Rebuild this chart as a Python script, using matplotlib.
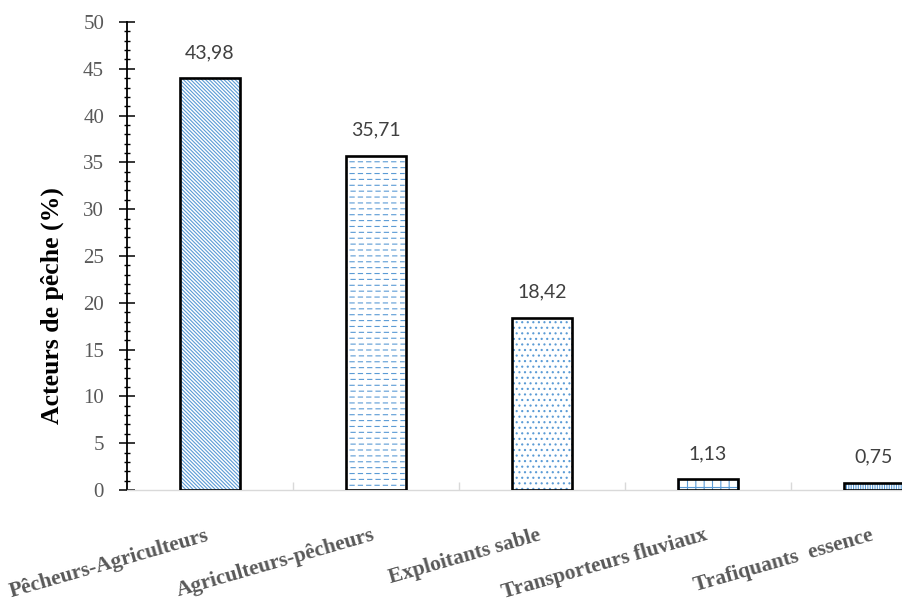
import numpy as np
import matplotlib
matplotlib.use("Agg")
import matplotlib.pyplot as plt
import matplotlib.hatch as mhatch
from matplotlib.path import Path
from matplotlib.ticker import MultipleLocator, FixedLocator

# ---------------- data ----------------
categories = ["Pêcheurs-Agriculteurs", "Agriculteurs-pêcheurs", "Exploitants sable",
              "Transporteurs fluviaux", "Trafiquants  essence"]
values = [43.98, 35.71, 18.42, 1.13, 0.75]
y_ticks = [0, 5, 10, 15, 20, 25, 30, 35, 40, 45, 50]
y_label = "Acteurs de pêche (%)"


# custom dashed-row hatch (replaces the 'O' pattern)
class DashedRows(mhatch.HatchPatternBase):
    def __init__(self, hatch, density):
        n = hatch.count('O')
        self.rows = 17 * n
        self.cols = 12 * n
        self.num_vertices = self.rows * self.cols * 2

    def set_vertices_and_codes(self, vertices, codes):
        if self.num_vertices == 0:
            return
        ys = (np.arange(self.rows) + 0.5) / self.rows
        xs = np.arange(self.cols) / self.cols
        dash = 0.5 / self.cols
        k = 0
        for r, y in enumerate(ys):
            off = 0.0 if r % 2 == 0 else 0.12 / self.cols
            for x in xs:
                vertices[k] = (x + off, y)
                vertices[k + 1] = (x + off + dash, y)
                codes[k] = Path.MOVETO
                codes[k + 1] = Path.LINETO
                k += 2


mhatch._hatch_types = [t for t in mhatch._hatch_types if t is not mhatch.LargeCircles] + [DashedRows]

plt.rcParams['hatch.linewidth'] = 0.8
hatch_blue = "#5B9BD5"
hatches = ['\\' * 9, 'O', '...', '++', '|' * 7]

fig = plt.figure(figsize=(9.03, 6.14), dpi=100)
ax = fig.add_axes([127 / 903, 124 / 614, 830 / 903, 468 / 614])

x = np.arange(len(categories))
width = 0.366
for xi, v, h in zip(x, values, hatches):
    ax.bar(xi, v, width=width, color="white", edgecolor=hatch_blue, linewidth=0,
           hatch=h, zorder=2)
ax.bar(x, values, width=width, fill=False, edgecolor="black", linewidth=1.9, zorder=3)

for xi, v in zip(x, values):
    ax.annotate(f"{v:.2f}".replace('.', ','), (xi, v), xytext=(0, 14.5),
                textcoords="offset points", ha="center", va="baseline",
                fontsize=14, color="#404040", family="Lato")

ax.set_xlim(-0.5, len(categories) - 0.5)
ax.set_ylim(0, 50)

# y axis
ax.set_yticks(y_ticks)
ax.set_yticklabels([str(t) for t in y_ticks], family="Liberation Serif",
                   fontsize=15, color="#595959")
ax.yaxis.set_minor_locator(MultipleLocator(1))
ax.tick_params(axis="y", which="major", direction="inout", length=11, width=1.1,
               pad=11, color="black")
ax.tick_params(axis="y", which="minor", direction="inout", length=4.5, width=1.0,
               color="black")

# x axis
ax.set_xticks(x)
ax.set_xticklabels(categories, rotation=16, rotation_mode="anchor", ha="right",
                   va="baseline", family="Liberation Serif", fontweight="bold",
                   fontsize=15.5, color="#595959")
ax.tick_params(axis="x", which="major", length=0, pad=36)
ax.xaxis.set_minor_locator(FixedLocator(x[:-1] + 0.5))
ax.tick_params(axis="x", which="minor", direction="in", length=6, width=1.0,
               color="#d9d9d9")

for s in ["top", "right"]:
    ax.spines[s].set_visible(False)
ax.spines["left"].set_color("black")
ax.spines["left"].set_linewidth(1.3)
ax.spines["bottom"].set_color("#d9d9d9")
ax.spines["bottom"].set_linewidth(1.0)

fig.text(52 / 903, 1 - 306 / 614, y_label, rotation=90, ha="center", va="center",
         family="Liberation Serif", fontweight="bold", fontsize=18.5, color="black")

fig.savefig("out.png", dpi=100)
